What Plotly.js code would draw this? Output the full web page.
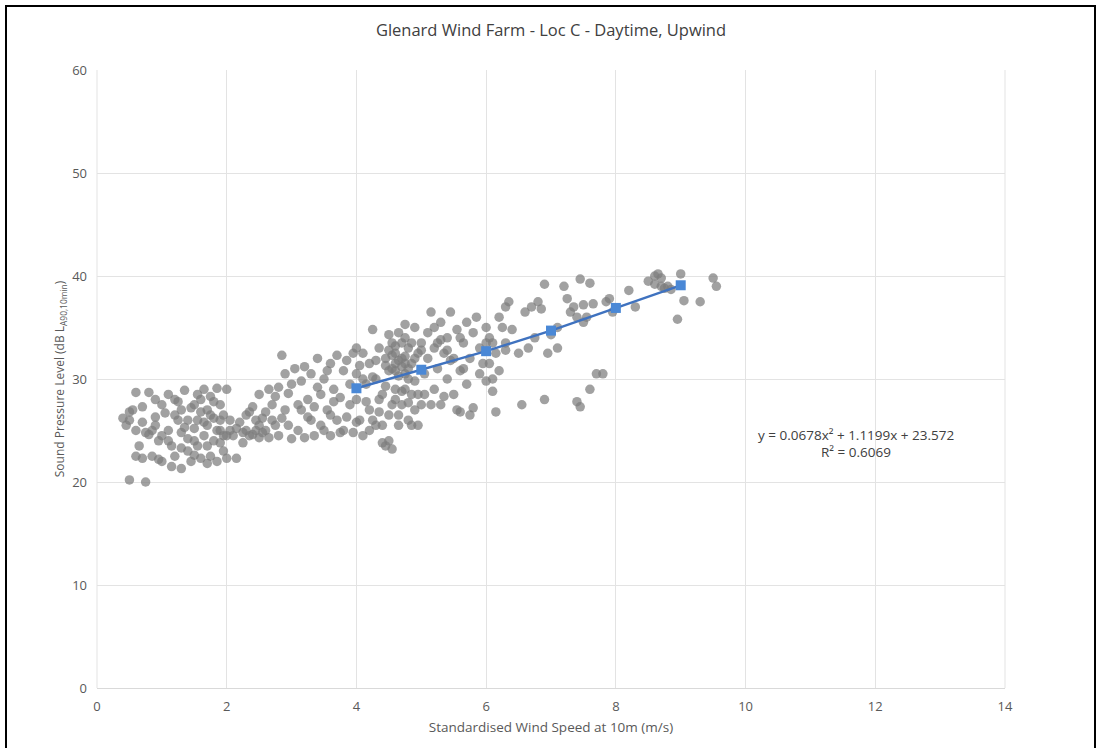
<!DOCTYPE html>
<html>
<head>
<meta charset="utf-8">
<script src="https://cdn.plot.ly/plotly-3.0.1.min.js"></script>
<style>
  html, body { margin: 0; padding: 0; background: #fff; overflow: hidden; }
  #frame { position: absolute; left: 5px; top: 5px; width: 1091px; height: 760px; border: 2px solid #000; box-sizing: border-box; pointer-events: none; z-index: 10; }
  #chart { width: 1105px; height: 748px; }
</style>
</head>
<body>
<div id="frame"></div>
<div id="chart"></div>
<script>
// Measured points: standardised wind speed (m/s) and sound pressure level (dB)
const windX = [
0.4,0.5,0.5,0.6,0.6,0.7,0.7,0.75,0.8,0.8,0.85,0.9,0.9,0.95,1.0,1.0,0.6,0.55,0.45,0.7,0.85,0.95,0.65,0.75,0.9,1.0,0.5,
1.1,1.1,1.15,1.2,1.2,1.25,1.3,1.3,1.35,1.4,1.4,1.45,1.5,1.5,1.55,1.55,1.6,1.6,1.65,1.65,1.7,1.7,1.75,1.75,1.8,1.8,1.85,1.85,1.9,1.9,1.95,1.95,2.0,2.0,2.0,1.15,1.25,1.35,1.45,1.5,1.6,1.7,1.8,1.9,1.2,1.05,1.3,1.55,1.65,1.75,1.85,1.95,1.4,1.1,1.3,1.5,1.7,1.9,
2.05,2.1,2.15,2.2,2.25,2.3,2.35,2.4,2.45,2.5,2.5,2.55,2.6,2.65,2.7,2.7,2.75,2.8,2.8,2.85,2.9,2.9,2.95,3.0,3.0,2.15,2.3,2.4,2.45,2.6,2.75,2.85,2.95,2.25,2.55,2.65,2.35,2.05,2.5,
3.05,3.1,3.1,3.15,3.2,3.2,3.25,3.3,3.3,3.35,3.4,3.45,3.5,3.5,3.55,3.6,3.6,3.65,3.7,3.7,3.75,3.75,3.8,3.8,3.85,3.9,3.9,3.95,3.95,3.15,3.25,3.4,3.45,3.55,3.65,3.85,3.35,3.6,
4.0,4.0,4.0,4.05,4.1,4.1,4.15,4.2,4.2,4.25,4.3,4.3,4.35,4.4,4.4,4.45,4.5,4.5,4.55,4.55,4.6,4.6,4.65,4.65,4.7,4.7,4.75,4.75,4.8,4.8,4.85,4.85,4.9,4.9,4.95,4.95,5.0,5.0,
4.05,4.15,4.25,4.35,4.45,4.5,4.55,4.6,4.65,4.7,4.75,4.8,4.85,4.9,4.5,4.45,4.4,4.35,4.25,4.2,4.6,4.7,4.8,4.9,4.55,4.65,4.75,4.85,4.95,4.3,4.1,4.0,4.45,4.55,4.65,4.75,4.8,4.6,4.7,4.75,4.6,4.5,
5.05,5.1,5.1,5.15,5.2,5.2,5.25,5.3,5.3,5.35,5.4,5.4,5.45,5.5,5.5,5.55,5.6,5.6,5.65,5.7,5.7,5.75,5.8,5.8,5.85,5.9,5.9,5.95,6.0,6.0,5.05,5.15,5.25,5.35,5.45,5.55,5.65,5.75,5.0,5.2,5.4,5.6,5.3,
6.05,6.05,6.1,6.15,6.2,6.2,6.25,6.3,6.3,6.35,6.4,6.5,6.55,6.6,6.7,6.8,6.85,6.9,6.9,6.95,7.0,6.1,6.15,6.3,6.65,6.75,6.0,6.1,
7.1,7.2,7.3,7.35,7.4,7.45,7.45,7.5,7.55,7.6,7.6,7.65,7.7,7.8,7.85,7.9,7.95,7.4,7.25,7.1,7.5,
8.2,8.3,8.5,8.6,8.65,8.7,8.75,8.8,8.85,8.95,9.0,9.05,9.3,9.5,9.55,8.6,8.7
];
const splY = [
26.2,26.0,20.2,28.7,25.0,22.3,27.3,20.0,28.7,24.6,22.5,26.3,28.0,24.0,27.5,22.0,22.5,27.0,25.5,25.8,25.0,22.2,23.5,24.8,25.5,24.5,26.8,
28.5,25.0,21.5,22.5,26.5,27.8,21.3,24.8,28.9,26.0,23.0,22.0,27.5,25.2,28.5,23.5,26.8,22.3,29.0,24.5,27.0,25.5,22.5,28.3,26.2,24.0,29.1,22.0,27.5,25.0,23.0,26.5,29.0,24.5,22.3,23.5,26.0,25.3,27.2,24.0,28.0,23.5,27.8,26.0,28.0,26.7,27.0,26.0,25.8,26.5,25.0,24.5,24.2,24.0,23.3,22.6,21.8,23.8,
25.0,24.5,22.3,25.8,24.8,26.5,24.5,27.3,25.0,24.3,28.5,26.2,25.0,24.3,27.5,26.0,25.5,24.5,29.2,32.3,27.0,30.5,25.5,29.5,24.2,25.2,25.0,24.6,26.0,26.8,28.3,26.2,28.6,23.8,24.8,29.0,26.8,26.0,25.5,
31.0,27.5,25.0,29.8,24.3,31.2,28.0,26.0,30.5,24.5,32.0,28.5,25.0,30.0,27.0,31.5,24.5,29.0,32.3,26.0,28.2,24.8,30.8,25.0,31.8,27.5,29.5,24.8,32.5,27.0,26.3,29.2,25.5,30.8,27.8,26.3,27.3,26.5,
33.0,28.0,30.5,26.0,32.5,24.5,29.5,31.5,27.0,34.8,25.5,30.0,33.0,28.5,23.8,32.0,26.5,30.8,23.2,33.5,28.0,31.5,25.5,34.5,32.0,27.5,35.3,30.5,33.0,26.0,31.5,28.5,35.0,29.8,32.5,25.5,33.5,27.5,
31.3,27.8,30.2,26.8,29.3,32.8,31.0,32.5,30.3,31.2,32.2,31.0,33.5,32.0,24.0,23.5,25.5,28.0,26.0,25.0,29.0,28.8,27.7,27.0,27.5,26.5,29.0,25.5,28.5,31.8,30.0,25.8,31.3,32.3,31.8,31.5,30.0,30.8,33.5,34.0,33.2,34.3,
30.5,32.0,34.5,36.5,29.0,33.0,31.0,35.5,27.5,32.5,34.0,30.0,36.5,32.0,28.5,34.8,30.8,26.8,33.5,35.5,29.5,32.0,34.5,27.2,36.0,33.0,30.5,31.5,35.0,33.5,28.5,27.5,33.5,28.3,31.8,27.0,31.0,26.5,32.8,35.0,32.8,34.0,33.8,
34.0,31.5,33.5,32.5,36.0,30.8,35.0,37.0,33.5,37.5,34.8,32.5,27.5,36.5,37.0,37.5,36.8,39.2,28.0,32.5,34.3,30.0,26.8,32.8,33.0,34.0,29.8,28.8,
35.0,39.0,36.5,37.0,27.8,27.3,39.7,35.5,36.0,39.3,29.0,37.3,30.5,30.5,37.5,37.8,36.5,36.0,37.8,33.0,37.2,
38.6,37.0,39.5,40.0,40.2,39.0,38.8,39.0,38.7,35.8,40.2,37.6,37.5,39.8,39.0,39.2,39.8
];
// Trendline points (as drawn in the chart)
const trendX = [4, 5, 6, 7, 8, 9];
const trendY = [29.1, 30.9, 32.7, 34.7, 36.9, 39.1];
const xTicks = [0, 2, 4, 6, 8, 10, 12, 14];
const yTicks = [0, 10, 20, 30, 40, 50, 60];
const chartTitle = "Glenard Wind Farm - Loc C - Daytime, Upwind";
const xTitle = "Standardised Wind Speed at 10m (m/s)";
const yTitle = "Sound Pressure Level (dB L<sub>A90,10min</sub>)";
const eqLines = ["y = 0.0678x² + 1.1199x + 23.572", "R² = 0.6069"];

const font = "Open Sans, Liberation Sans, sans-serif";
const traces = [
  {
    type: "scatter", mode: "markers", x: windX, y: splY,
    marker: { color: "rgba(125,125,125,0.72)", size: 9.5, line: { width: 0 } },
    hoverinfo: "x+y", showlegend: false
  },
  {
    type: "scatter", mode: "lines+markers", x: trendX, y: trendY,
    line: { color: "#3f72bf", width: 2.4 },
    marker: { color: "#4a88d6", symbol: "square", size: 10 },
    showlegend: false
  }
];
const layout = {
  width: 1105, height: 748,
  margin: { l: 97, r: 100, t: 70, b: 60 },
  paper_bgcolor: "#fff", plot_bgcolor: "#fff",
  font: { family: font, color: "#595959", size: 13 },
  title: { text: chartTitle, x: 0.5, xref: "paper", y: 0.96, yref: "container", yanchor: "middle", font: { size: 16.5, color: "#404040", family: font } },
  xaxis: {
    range: [0, 14], tickvals: xTicks, ticktext: xTicks.map(String),
    showgrid: true, gridcolor: "#e3e3e3", gridwidth: 1,
    zeroline: false, showline: true, linecolor: "#d9d9d9", mirror: false,
    ticks: "", ticklabelstandoff: 6, tickfont: { size: 13, color: "#595959" },
    title: { text: xTitle, font: { size: 13.5, color: "#595959" }, standoff: 8 }
  },
  yaxis: {
    range: [0, 60], tickvals: yTicks, ticktext: yTicks.map(String),
    showgrid: true, gridcolor: "#e3e3e3", gridwidth: 1,
    zeroline: false, showline: false, ticks: "", ticklabelstandoff: 9,
    tickfont: { size: 13, color: "#595959" },
    title: { text: yTitle, font: { size: 12, color: "#595959" }, standoff: 4 }
  },
  shapes: [
    { type: "line", xref: "paper", yref: "paper", x0: 1, x1: 1, y0: 0, y1: 1, line: { color: "#e3e3e3", width: 1 } },
    { type: "line", xref: "paper", yref: "paper", x0: 0, x1: 0, y0: 0, y1: 1, line: { color: "#e3e3e3", width: 1 } }
  ],
  annotations: [
    { xref: "x", yref: "y", x: 11.7, y: 24.6, text: eqLines[0], showarrow: false, font: { size: 13.5, color: "#404040" }, xanchor: "center" },
    { xref: "x", yref: "y", x: 11.7, y: 22.9, text: eqLines[1], showarrow: false, font: { size: 13.5, color: "#404040" }, xanchor: "center" }
  ]
};
Plotly.newPlot("chart", traces, layout, { displayModeBar: false, staticPlot: true });
</script>
</body>
</html>
